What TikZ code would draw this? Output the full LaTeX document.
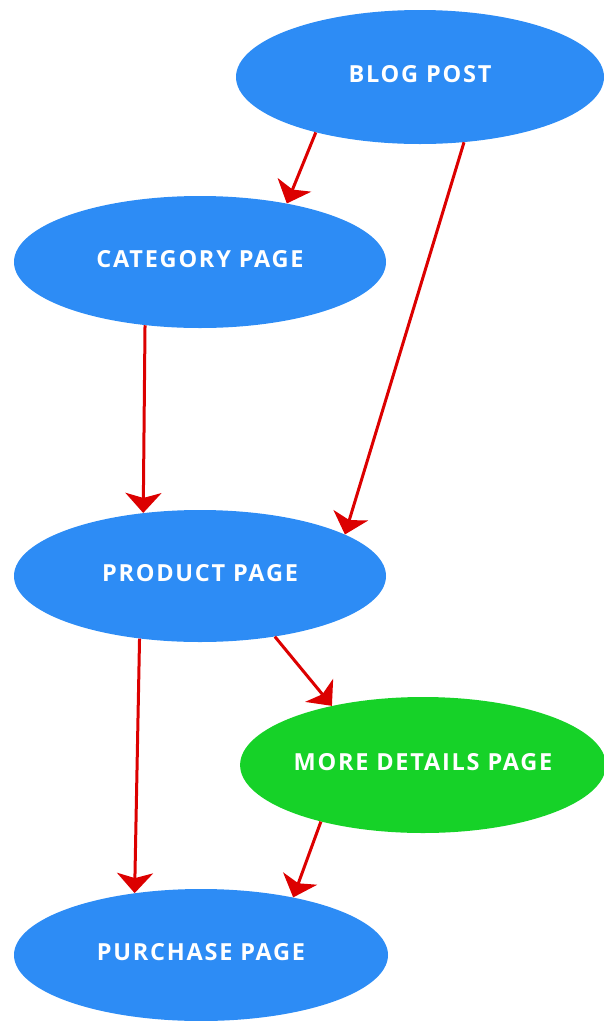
\documentclass[tikz,border=0pt]{standalone}
\usepackage{fontspec}
\setmainfont{Open Sans}
\newfontfamily\labelfont[LetterSpace=7.5]{Open Sans}
\usetikzlibrary{shapes.geometric,arrows.meta}
\definecolor{nodeblue}{RGB}{45,140,245}
\definecolor{nodegreen}{RGB}{22,210,40}
\definecolor{arrowred}{RGB}{220,0,0}
\tikzset{
  page/.style={ellipse, fill=nodeblue, draw=none, inner sep=0pt,
    minimum width=372pt, minimum height=132pt,
    text height=16.8pt, text depth=5.5pt,
    text=white, font=\labelfont\bfseries\fontsize{23.5}{26}\selectfont},
  extra/.style={page, fill=nodegreen, minimum width=362pt, minimum height=136pt},
  link/.style={draw=arrowred, line width=3pt,
    -{Stealth[length=20pt, width=36pt, inset=5pt]}}
}
\begin{document}
\begin{tikzpicture}[x=1pt,y=-1pt]
\useasboundingbox (0,0) rectangle (604,1021);
\node[page, minimum width=368pt, minimum height=134pt] (blog) at (420,77) {BLOG POST};
\node[page] (cat) at (200,262) {CATEGORY PAGE};
\node[page] (prod) at (200,576) {PRODUCT PAGE};
\node[extra] (more) at (423,765) {MORE DETAILS PAGE};
\node[page, minimum width=374pt] (buy) at (201,955) {PURCHASE PAGE};
\draw[link] (blog.208.5) -- (cat.34.3);
\draw[link] (blog.304.7) -- (prod.16.7);
\draw[link] (cat.229.7) -- (prod.132.7);
\draw[link] (prod.321.5) -- (more.147.2);
\draw[link] (prod.226.3) -- (buy.137.6);
\draw[link] (more.209.4) -- (buy.32.5);
\end{tikzpicture}
\end{document}
